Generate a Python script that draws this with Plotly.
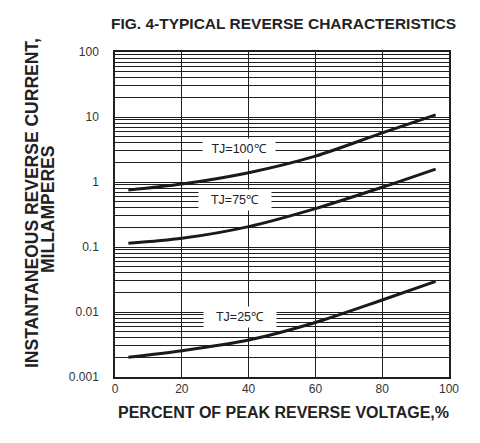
import math
import plotly.graph_objects as go

# Data
pct = [4, 20, 40, 60, 80, 96]
tj100 = [0.75, 0.93, 1.39, 2.5, 5.7, 10.8]
tj75 = [0.114, 0.136, 0.206, 0.39, 0.83, 1.58]
tj25 = [0.00201, 0.00254, 0.0037, 0.0069, 0.0153, 0.0296]

curve_labels = ["TJ=100℃", "TJ=75℃", "TJ=25℃"]
label_x = [37.0, 36.0, 37.5]
label_y = [3.22, 0.53, 0.0085]

x_ticks = [0, 20, 40, 60, 80, 100]
y_decades = [0.001, 0.01, 0.1, 1, 10, 100]
y_decade_text = ["0.001", "0.01", "0.1", "1", "10", "100"]

# all gridline positions (1..9 per decade)
y_grid = []
y_grid_text = []
for i, d in enumerate(y_decades[:-1]):
    for k in range(1, 10):
        y_grid.append(round(d * k, 6))
        y_grid_text.append(y_decade_text[i] if k == 1 else "")
y_grid.append(100)
y_grid_text.append("100")

FONT = "Liberation Sans, Arial, sans-serif"

fig = go.Figure()
for ys in (tj100, tj75, tj25):
    fig.add_trace(go.Scatter(x=pct, y=ys, mode="lines",
                             line=dict(color="#1a1a1a", width=3, shape="spline", smoothing=0.8),
                             showlegend=False, hoverinfo="skip"))

for t, lx, ly in zip(curve_labels, label_x, label_y):
    fig.add_annotation(x=lx, y=math.log10(ly), yref="y", xref="x", text=t, showarrow=False,
                       font=dict(family=FONT, size=12.5, color="#222"),
                       bgcolor="white", width=70, height=18)

fig.update_layout(
    width=480, height=443,
    margin=dict(l=115, r=31, t=52, b=66, autoexpand=False),
    paper_bgcolor="white", plot_bgcolor="white",
    font=dict(family=FONT, color="#333"),
)
fig.update_xaxes(range=[0, 100], tickvals=x_ticks, ticks="", showgrid=True, automargin=False,
                 gridcolor="#1f1f1f", gridwidth=1.4, zeroline=False,
                 showline=True, linecolor="#1f1f1f", linewidth=1.5, mirror=True,
                 tickfont=dict(family=FONT, size=12, color="#333"))
fig.update_yaxes(type="log", range=[-3, 2], tickvals=y_grid, ticktext=y_grid_text, automargin=False,
                 ticks="", showgrid=True, gridcolor="#1f1f1f", gridwidth=1.4, zeroline=False,
                 showline=True, linecolor="#1f1f1f", linewidth=1.5, mirror=True,
                 tickfont=dict(family=FONT, size=12, color="#333"), ticklabelstandoff=12)

# Title
fig.add_annotation(xref="paper", yref="paper", x=0.505, y=1.0 + 29 / 325, xanchor="center", yanchor="middle",
                   text="<b>FIG. 4-TYPICAL REVERSE CHARACTERISTICS</b>", showarrow=False,
                   font=dict(family=FONT, size=15.5, color="#222"))
# X axis title
fig.add_annotation(xref="paper", yref="paper", x=0.505, y=-35 / 325, xanchor="center", yanchor="middle",
                   text="<b>PERCENT OF PEAK REVERSE VOLTAGE,%</b>", showarrow=False,
                   font=dict(family=FONT, size=16, color="#222"))
# Y axis title (two lines)
fig.add_annotation(xref="paper", yref="paper", x=(32 - 115) / 334, y=(377 - 203) / 325,
                   xanchor="center", yanchor="middle",
                   text="<b>INSTANTANEOUS REVERSE CURRENT,</b>", textangle=-90, showarrow=False,
                   font=dict(family=FONT, size=17.5, color="#222"))
fig.add_annotation(xref="paper", yref="paper", x=(48 - 115) / 334, y=(377 - 210) / 325,
                   xanchor="center", yanchor="middle",
                   text="<b>MILLAMPERES</b>", textangle=-90, showarrow=False,
                   font=dict(family=FONT, size=17.5, color="#222"))

fig.write_html("out.html", config={"displayModeBar": False},
               post_script="document.body.style.margin='0';document.body.style.overflow='hidden';")
